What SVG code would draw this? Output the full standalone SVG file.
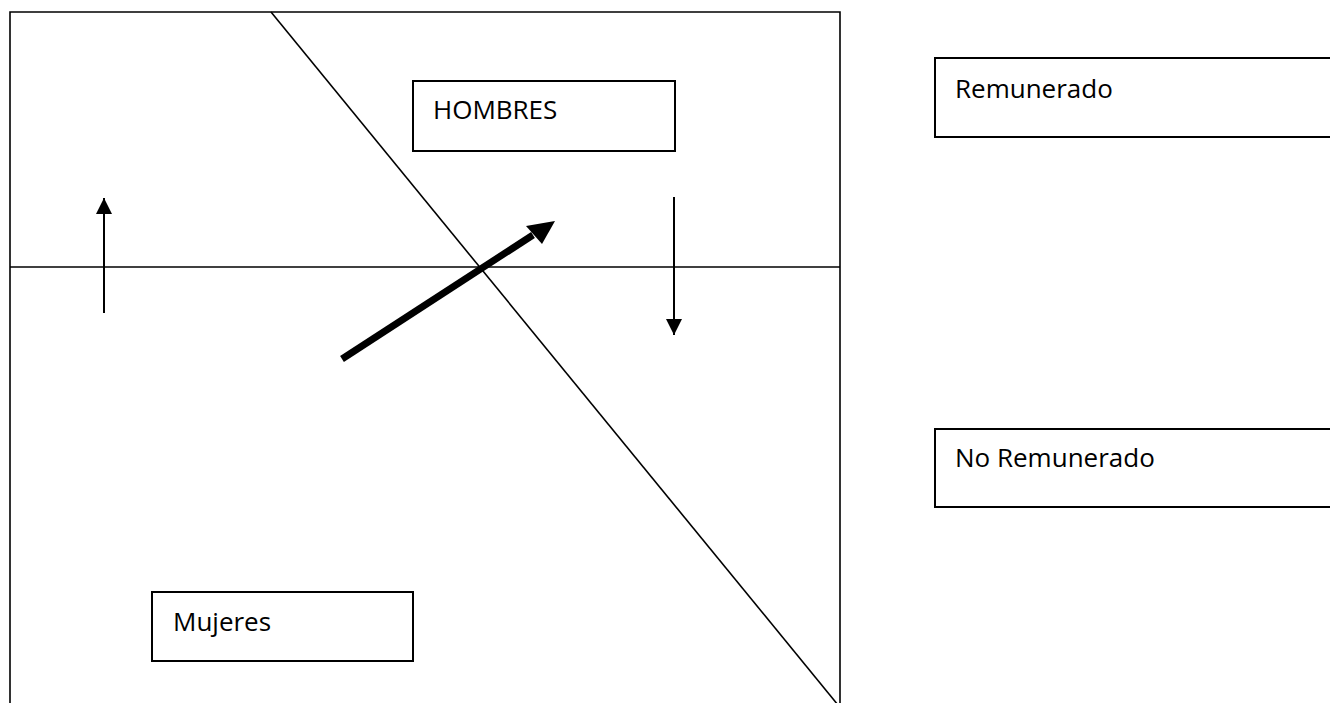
<svg xmlns="http://www.w3.org/2000/svg" width="1330" height="703" viewBox="0 0 1330 703">
<style>
.box{fill:#fff;stroke:#000;stroke-width:2}
.ln{stroke:#000;stroke-width:1.6;fill:none}
.t{font-family:"Open Sans","Noto Sans",sans-serif;font-size:26px;fill:#000}
</style>
<defs>
<marker id="ah" viewBox="0 0 10 10" refX="10" refY="5" markerWidth="8" markerHeight="8" orient="auto" markerUnits="strokeWidth"><path d="M0,0L10,5L0,10z" fill="#000"/></marker>
</defs>
<rect width="1330" height="703" fill="#fff"/>
<g id="frame">
<path class="ln" d="M10,710V12H840V710" stroke-width="2"/>
<line class="ln" x1="10" y1="267" x2="840" y2="267"/>
<line class="ln" x1="271" y1="12" x2="838" y2="705"/>
</g>
<g id="connectors">
<line x1="104" y1="313" x2="104" y2="198" stroke="#000" stroke-width="2" marker-end="url(#ah)"/>
<line x1="674" y1="197" x2="674" y2="335" stroke="#000" stroke-width="2" marker-end="url(#ah)"/>
<line x1="342" y1="359" x2="533" y2="235" stroke="#000" stroke-width="7"/>
<path d="M555,221L542,244L526,226z" fill="#000"/>
</g>
<g id="hombres"><rect class="box" x="413" y="81" width="262" height="70"/><text class="t" x="433" y="119">HOMBRES</text></g>
<g id="mujeres"><rect class="box" x="152" y="592" width="261" height="69"/><text class="t" x="173" y="631">Mujeres</text></g>
<g id="remunerado"><rect class="box" x="935" y="58" width="410" height="79"/><text class="t" x="955" y="98">Remunerado</text></g>
<g id="noremunerado"><rect class="box" x="935" y="429" width="410" height="78"/><text class="t" x="955" y="467">No Remunerado</text></g>
</svg>
